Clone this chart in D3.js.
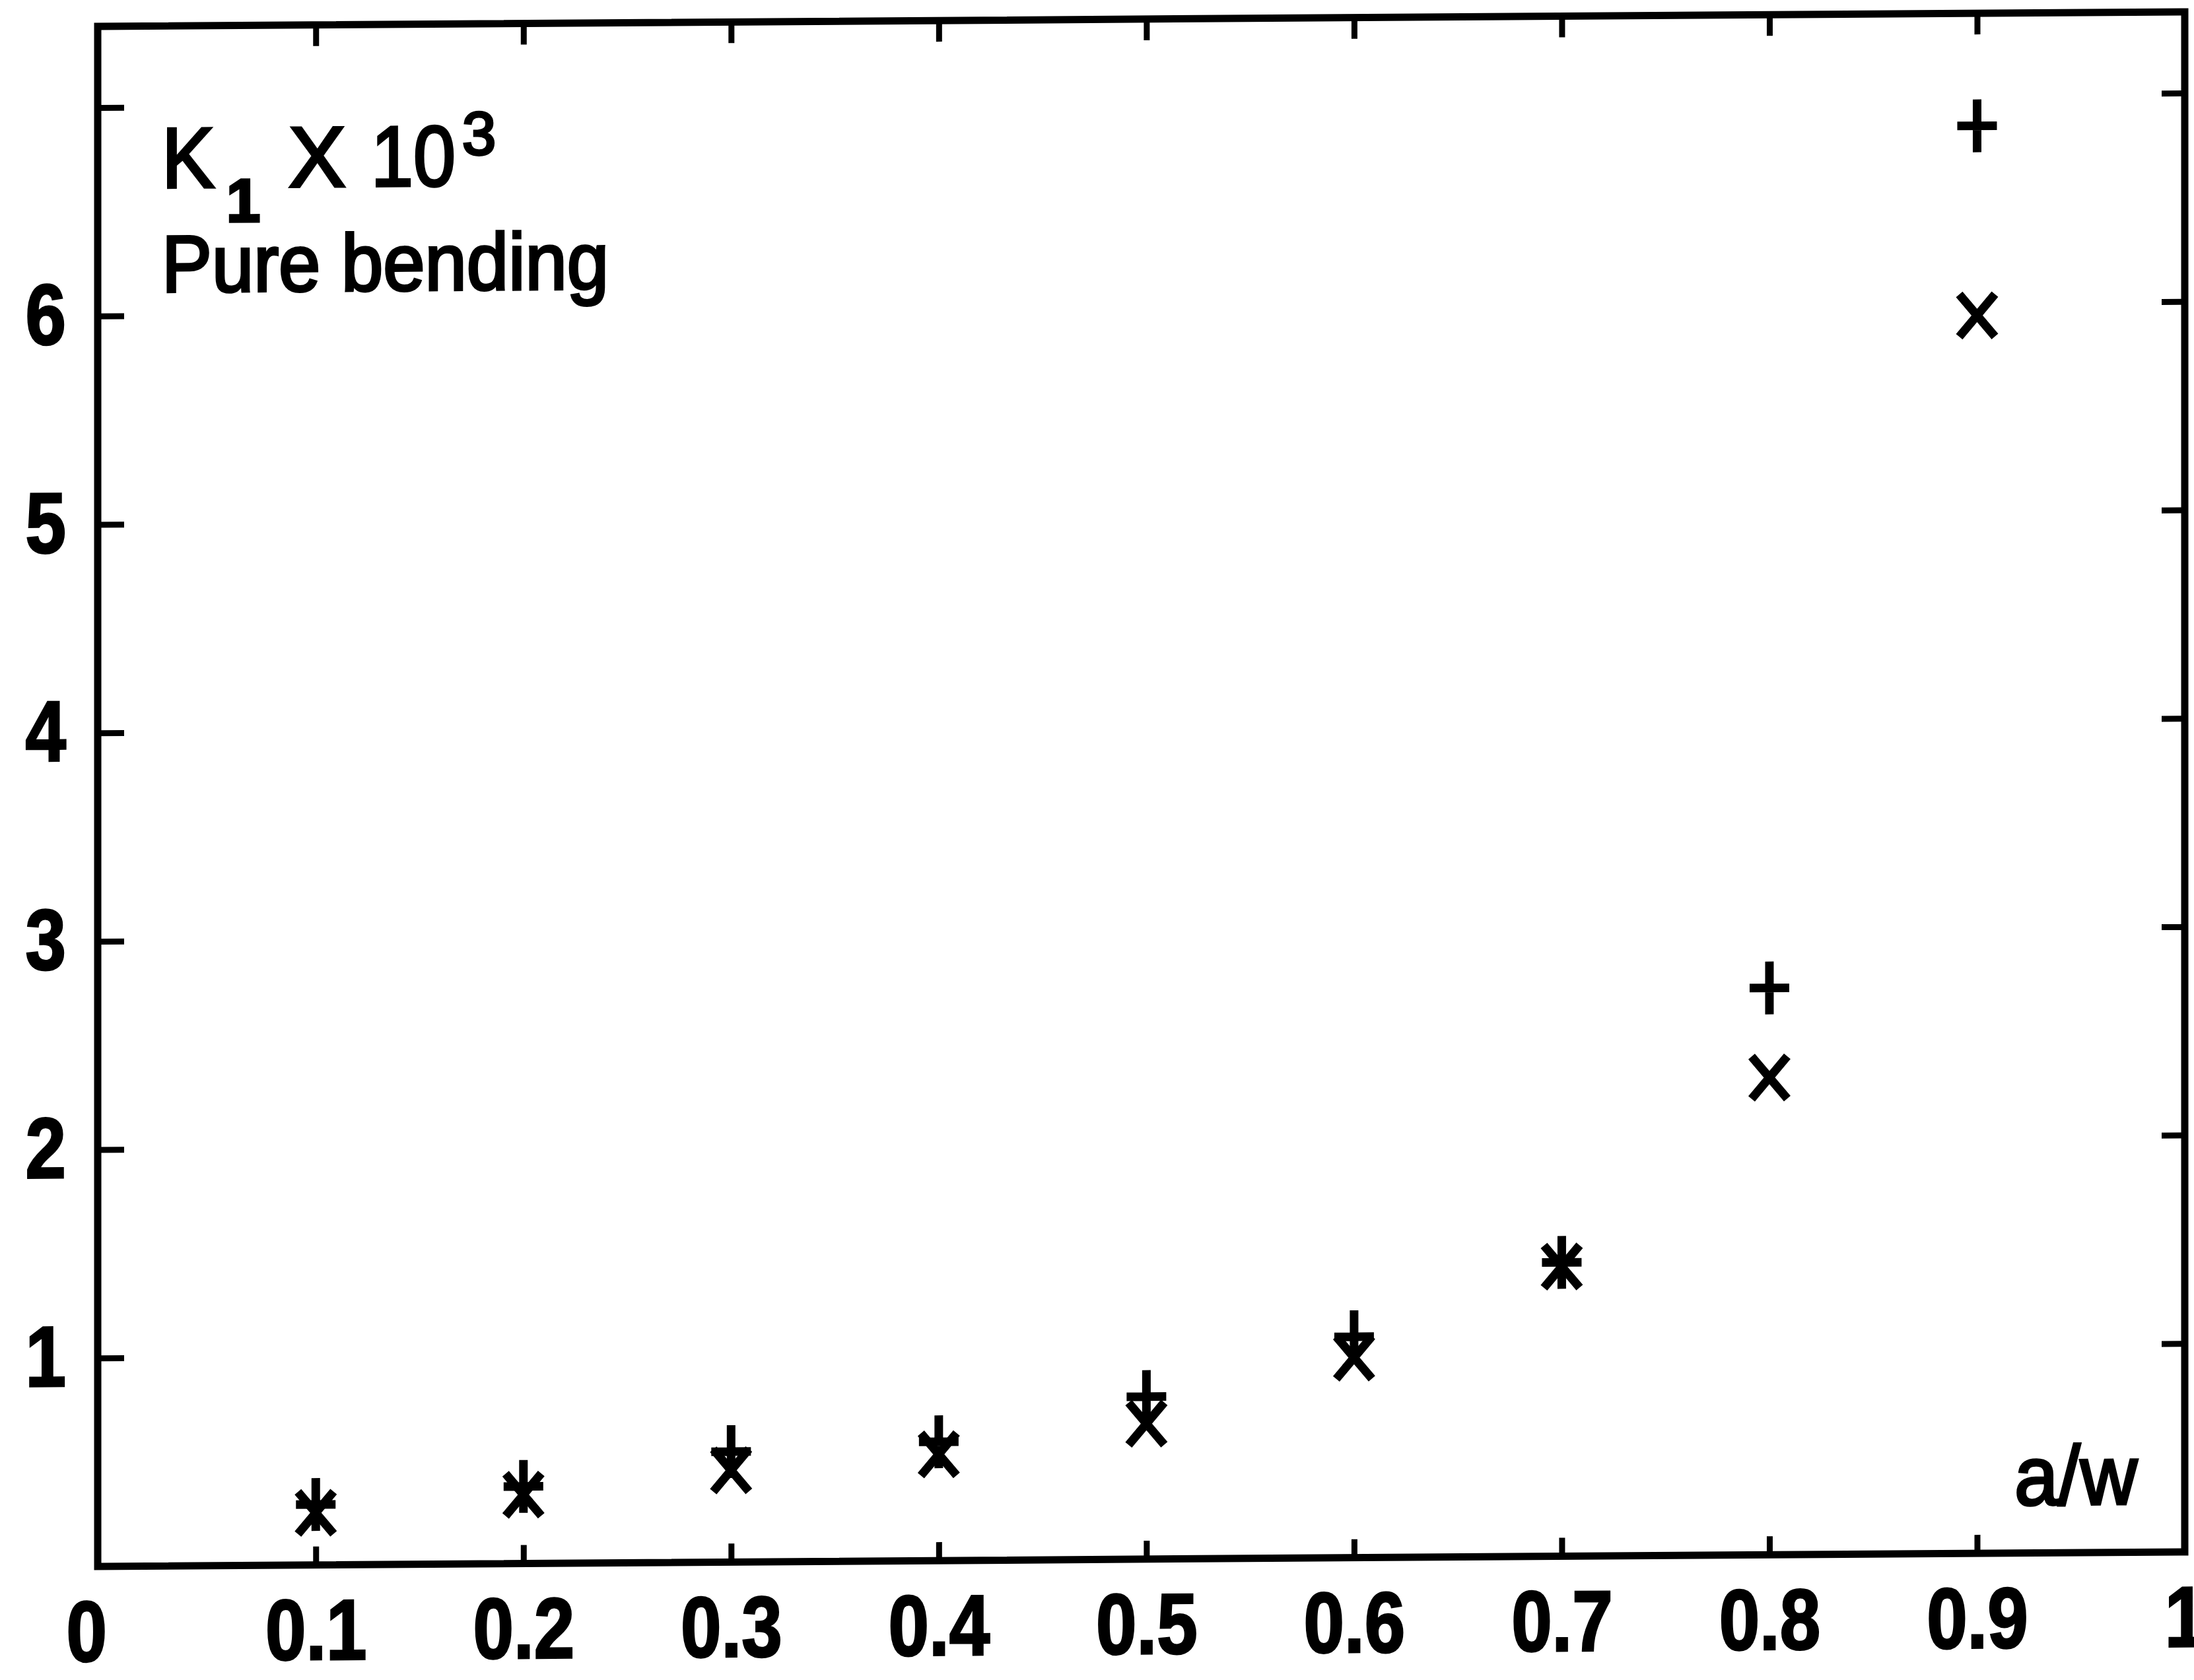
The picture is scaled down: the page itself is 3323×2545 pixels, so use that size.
<!DOCTYPE html>
<html>
<head>
<meta charset="utf-8">
<script src="https://cdn.jsdelivr.net/npm/d3@7"></script>
<style>
  body { margin: 0; background: #fff; }
  svg { display: block; }
</style>
</head>
<body>
<div id="chart"></div>
<script>
// values
const aw = [0.1, 0.2, 0.3, 0.4, 0.5, 0.6, 0.7, 0.8, 0.9];
const kPlus = [0.29, 0.37, 0.53, 0.57, 0.78, 1.06, 1.41, 2.72, 6.85];
const kCross = [0.25, 0.33, 0.44, 0.51, 0.65, 0.96, 1.39, 2.29, 5.94];

// ticks and labels
const xTickValues = [0.1, 0.2, 0.3, 0.4, 0.5, 0.6, 0.7, 0.8, 0.9];
const xLabelValues = [0, 0.1, 0.2, 0.3, 0.4, 0.5, 0.6, 0.7, 0.8, 0.9, 1];
const xLabelText = ["0", "0.1", "0.2", "0.3", "0.4", "0.5", "0.6", "0.7", "0.8", "0.9", "1"];
const yTickValues = [1, 2, 3, 4, 5, 6, 7];
const yLabelText = ["1", "2", "3", "4", "5", "6", ""];

const w = 3323;
const h = 2545;
const labelFont = '"Liberation Sans", Arial, sans-serif';
const textFont = '"Liberation Sans", Arial, sans-serif';
const squeeze = 0.85; // labels in the scan are narrower than Liberation Sans Bold

const x = d3.scaleLinear().domain([-0.005, 1.0]).range([148, 3309]);
const y = d3.scaleLinear().domain([0, 7.39]).range([2373, 40]);

const svg = d3.select("#chart")
      .append("svg")
      .attr("width", w)
      .attr("height", h)
      .style("background-color", "#fff");

// the scan is a little skewed: horizontals rise to the right
const g = svg.append("g")
      .attr("transform", `translate(${x.range()[0]},${y.range()[0]}) skewY(-0.4) translate(${-x.range()[0]},${-y.range()[0]})`);

//frame
g.append("rect")
      .attr("x", x.range()[0])
      .attr("y", y.range()[1])
      .attr("width", x.range()[1] - x.range()[0])
      .attr("height", y.range()[0] - y.range()[1])
      .style("fill", "none")
      .style("stroke", "#000")
      .style("stroke-width", 11);

//inward ticks on all four sides
const tickAxes = [
      { axis: d3.axisBottom(x).tickValues(xTickValues).tickSize(-28), t: `translate(0,${y.range()[0]})` },
      { axis: d3.axisTop(x).tickValues(xTickValues).tickSize(-32), t: `translate(0,${y.range()[1]})` },
      { axis: d3.axisLeft(y).tickValues(yTickValues).tickSize(-40), t: `translate(${x.range()[0]},0)` },
      { axis: d3.axisRight(y).tickValues(yTickValues).tickSize(-35), t: `translate(${x.range()[1]},0)` }
];
for (let a of tickAxes) {
      const ga = g.append("g")
            .attr("transform", a.t)
            .call(a.axis.tickFormat(""));
      ga.select(".domain").remove();
      ga.selectAll(".tick line")
            .style("stroke", "#000")
            .style("stroke-width", 9);
}

//tick labels
const xLab = g.append("g")
      .attr("transform", `translate(0,${y.range()[0]})`)
      .call(d3.axisBottom(x).tickValues(xLabelValues).tickSize(0).tickPadding(51)
            .tickFormat((d, i) => xLabelText[i]));
const yLab = g.append("g")
      .attr("transform", `translate(${x.range()[0]},0)`)
      .call(d3.axisLeft(y).tickValues(yTickValues).tickSize(0).tickPadding(48)
            .tickFormat((d, i) => yLabelText[i]));
for (let gl of [xLab, yLab]) {
      gl.select(".domain").remove();
      gl.selectAll("text")
            .attr("font-family", labelFont)
            .attr("font-weight", "bold")
            .attr("font-size", 130)
            .style("fill", "#000")
            .style("stroke", "#000")
            .style("stroke-width", 3);
}
xLab.selectAll("text")
      .attr("transform", `scale(${squeeze},1)`)
      .attr("x", (d) => (d === 0 ? -33 / squeeze : 0));
yLab.selectAll("text")
      .attr("transform", `scale(${squeeze},1)`)
      .attr("x", -48 / squeeze);

//markers: + and x
const points = aw.map((a, i) => ({ a: a, plus: kPlus[i], cross: kCross[i] }));

g.selectAll(".plus")
      .data(points)
      .enter()
      .append("path")
      .attr("class", "plus")
      .attr("transform", (d) => `translate(${x(d.a)},${y(d.plus)})`)
      .attr("d", "M-30,0H30M0,-40V40")
      .style("fill", "none")
      .style("stroke", "#000")
      .style("stroke-width", 13);

g.selectAll(".cross")
      .data(points)
      .enter()
      .append("path")
      .attr("class", "cross")
      .attr("transform", (d) => `translate(${x(d.a)},${y(d.cross)})`)
      .attr("d", "M-27,-32L27,32M27,-32L-27,32")
      .style("fill", "none")
      .style("stroke", "#000")
      .style("stroke-width", 13);

//in-plot texts
const title = g.append("g")
      .attr("font-family", textFont)
      .style("fill", "#000")
      .style("stroke", "#000")
      .style("stroke-width", 4);
title.append("text").attr("x", 245).attr("y", 285).attr("font-size", 130)
      .attr("textLength", 80).attr("lengthAdjust", "spacingAndGlyphs").text("K");
title.append("text").attr("x", 343).attr("y", 337).attr("font-size", 92).attr("font-weight", "bold").text("1");
title.append("text").attr("x", 437).attr("y", 285).attr("font-size", 130).text("X");
title.append("text").attr("x", 562).attr("y", 285).attr("font-size", 130)
      .attr("textLength", 128).attr("lengthAdjust", "spacingAndGlyphs").text("10");
title.append("text").attr("x", 700).attr("y", 238).attr("font-size", 92).text("3");
title.append("text").attr("x", 245).attr("y", 443).attr("font-size", 122)
      .attr("textLength", 677).attr("lengthAdjust", "spacingAndGlyphs").text("Pure bending");

g.append("text")
      .attr("x", 3237)
      .attr("y", 2300)
      .attr("text-anchor", "end")
      .attr("font-family", textFont)
      .attr("font-size", 127)
      .attr("textLength", 186)
      .attr("lengthAdjust", "spacingAndGlyphs")
      .style("fill", "#000")
      .style("stroke", "#000")
      .style("stroke-width", 4)
      .text("a/w");
</script>
</body>
</html>
